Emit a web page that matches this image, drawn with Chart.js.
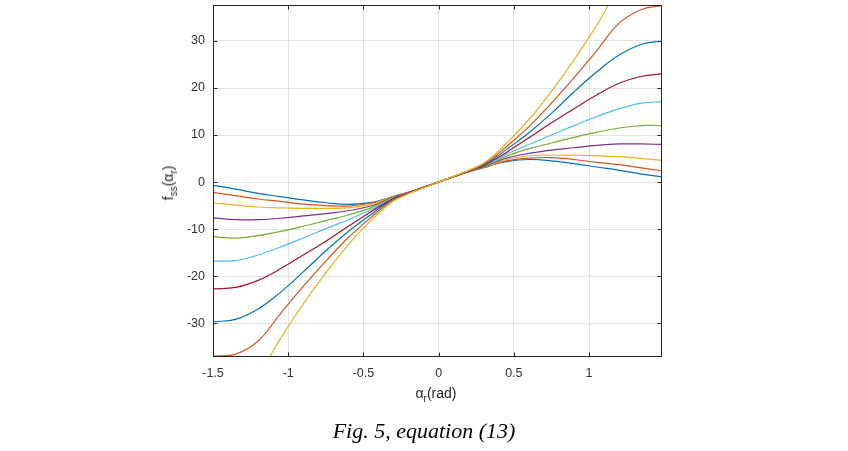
<!DOCTYPE html>
<html>
<head>
<meta charset="utf-8">
<script src="https://cdn.jsdelivr.net/npm/chart.js@4.4.0/dist/chart.umd.min.js"></script>
<style>
  html, body { margin: 0; padding: 0; background: #fff; }
  #wrap { position: relative; width: 848px; height: 451px; overflow: hidden; }
  #chart { position: absolute; left: 0; top: 0; }
  .axt { position: absolute; font-family: 'Liberation Sans', Arial, sans-serif; font-size: 14px; color: #262626; white-space: nowrap; line-height: 1; }
  .axt sub { font-size: 10px; vertical-align: -4px; }
  #ytitle { left: 170px; top: 183px; transform: translate(-50%, -50%) rotate(-90deg); }
  #xtitle { left: 436px; top: 395px; transform: translate(-50%, -50%); }
  #caption { position: absolute; left: 0; width: 848px; top: 418px; text-align: center; font-family: 'Liberation Serif', 'Times New Roman', serif; font-style: italic; font-size: 22px; color: #000; }
</style>
</head>
<body>
<div id="wrap">
  <canvas id="chart" width="848" height="451"></canvas>
  <div class="axt" id="ytitle">f<sub>ss</sub>(&alpha;<sub>r</sub>)</div>
  <div class="axt" id="xtitle">&alpha;<sub>r</sub>(rad)</div>
  <div id="caption">Fig. 5, equation (13)</div>
</div>
<script>
// angle alpha_r (rad)
const alphaR = [-1.5, -1.35, -1.2, -1.05, -0.9, -0.75, -0.6, -0.45, -0.375, -0.3, -0.225, -0.15, 0,
                0.15, 0.225, 0.3, 0.375, 0.45, 0.6, 0.75, 0.9, 1.05, 1.2, 1.35, 1.485];

// f_ss(alpha_r), one array per curve
const curve1  = [-0.7, -1.5, -2.4, -3.1, -3.8, -4.4, -4.75, -4.35, -3.8, -3.05, -2.4, -1.65, 0, 1.65, 2.4, 3.05, 3.8, 4.35, 4.8, 4.5, 3.9, 3.2, 2.5, 1.7, 1.1];
const curve2  = [-2.2, -2.9, -3.6, -4.1, -4.7, -5.0, -5.1, -4.5, -3.85, -3.07, -2.4, -1.65, 0, 1.65, 2.4, 3.07, 3.85, 4.5, 5.1, 5.2, 4.8, 4.2, 3.7, 3.0, 2.4];
const curve3  = [-4.4, -4.9, -5.3, -5.5, -5.6, -5.6, -5.5, -4.75, -3.95, -3.1, -2.45, -1.7, 0, 1.7, 2.45, 3.1, 3.95, 4.75, 5.6, 5.7, 5.7, 5.6, 5.4, 5.0, 4.6];
const curve4  = [-7.6, -8.0, -8.0, -7.7, -7.2, -6.7, -6.1, -5.1, -4.2, -3.2, -2.5, -1.7, 0, 1.7, 2.5, 3.2, 4.2, 5.1, 6.1, 6.8, 7.3, 7.8, 8.1, 8.1, 8.0];
const curve5  = [-11.6, -11.9, -11.4, -10.5, -9.4, -8.2, -7.0, -5.5, -4.4, -3.3, -2.55, -1.7, 0, 1.7, 2.55, 3.3, 4.4, 5.5, 7.1, 8.3, 9.5, 10.6, 11.5, 12.0, 12.0];
const curve6  = [-16.8, -16.7, -15.5, -13.8, -11.9, -9.9, -8.0, -5.9, -4.6, -3.4, -2.6, -1.75, 0, 1.75, 2.6, 3.4, 4.6, 5.9, 8.0, 10.0, 12.0, 13.9, 15.6, 16.8, 17.1];
const curve7  = [-22.7, -22.4, -20.9, -18.4, -15.5, -12.6, -9.4, -6.3, -4.85, -3.5, -2.6, -1.75, 0, 1.75, 2.6, 3.5, 4.85, 6.3, 9.4, 12.6, 15.6, 18.5, 21.0, 22.5, 23.0];
const curve8  = [-29.7, -29.2, -27.0, -23.4, -19.1, -14.6, -10.5, -6.9, -5.15, -3.7, -2.7, -1.8, 0, 1.8, 2.7, 3.7, 5.15, 6.9, 10.5, 14.6, 19.2, 23.4, 27.0, 29.3, 30.0];
const curve9  = [-37.0, -36.6, -33.8, -27.9, -22.2, -16.8, -11.8, -7.5, -5.5, -3.85, -2.75, -1.8, 0, 1.8, 2.75, 3.85, 5.5, 7.5, 11.8, 16.8, 22.2, 27.9, 33.8, 36.7, 37.5];
const curve10 = [-46.5, -44.8, -40.8, -33.2, -25.9, -19.3, -13.3, -8.2, -5.9, -4.05, -2.85, -1.85, 0, 1.85, 2.85, 4.05, 5.9, 8.2, 13.3, 19.3, 26.0, 33.3, 41.0, 45.0, 46.5];

const curves = [curve1, curve2, curve3, curve4, curve5, curve6, curve7, curve8, curve9, curve10];

// MATLAB default colour order
const lineColors = ['#0072BD', '#D95319', '#EDB120', '#7E2F8E', '#77AC30',
                    '#4DBEEE', '#A2142F', '#0072BD', '#D95319', '#EDB120'];

const xTicks = [-1.5, -1, -0.5, 0, 0.5, 1];
const yTicks = [-30, -20, -10, 0, 10, 20, 30];

const tickFont = { family: "'Liberation Sans', Arial, sans-serif", size: 12.5 };
const axisColor = '#262626';

// box round the axes + inward ticks on all four sides
const boxTicks = {
    id: 'boxTicks',
    afterDraw(chart) {
        const { ctx, chartArea: a, scales: { x, y } } = chart;
        const len = 4.5;
        ctx.save();
        ctx.strokeStyle = axisColor;
        ctx.lineWidth = 1;
        ctx.beginPath();
        xTicks.forEach(v => {
            const px = Math.round(x.getPixelForValue(v)) + 0.5;
            ctx.moveTo(px, a.bottom); ctx.lineTo(px, a.bottom - len);
            ctx.moveTo(px, a.top); ctx.lineTo(px, a.top + len);
        });
        yTicks.forEach(v => {
            const py = Math.round(y.getPixelForValue(v)) + 0.5;
            ctx.moveTo(a.left, py); ctx.lineTo(a.left + len, py);
            ctx.moveTo(a.right, py); ctx.lineTo(a.right - len, py);
        });
        ctx.stroke();
        ctx.strokeRect(Math.round(a.left) + 0.5, Math.round(a.top) + 0.5,
                       Math.round(a.right - a.left) - 1, Math.round(a.bottom - a.top) - 1);
        ctx.restore();
    }
};

const datasets = curves.map((vals, i) => ({
    data: alphaR.map((a, k) => ({ x: a, y: vals[k] })),
    borderColor: lineColors[i],
    borderWidth: 1.2,
    pointRadius: 0,
    fill: false,
    tension: 0.4,
    order: curves.length - i
}));

new Chart(document.getElementById('chart'), {
    type: 'line',
    data: { datasets },
    options: {
        responsive: false,
        animation: false,
        layout: { padding: { top: 5, right: 186, left: 0, bottom: 0 } },
        plugins: { legend: { display: false }, tooltip: { enabled: false } },
        scales: {
            x: {
                type: 'linear',
                min: -1.5,
                max: 1.485,
                afterBuildTicks: s => { s.ticks = xTicks.map(v => ({ value: v })); },
                afterFit: s => { s.height = 94; s.paddingLeft = 0; s.paddingRight = 0; },
                grid: { color: '#e2e2e2', drawTicks: false },
                border: { display: false },
                ticks: { padding: 9, font: tickFont, color: '#333', maxRotation: 0, callback: v => String(v) }
            },
            y: {
                type: 'linear',
                min: -37.2,
                max: 37.65,
                afterBuildTicks: s => { s.ticks = yTicks.map(v => ({ value: v })); },
                afterFit: s => { s.width = 213; s.paddingTop = 0; s.paddingBottom = 0; },
                grid: { color: '#e2e2e2', drawTicks: false },
                border: { display: false },
                ticks: { padding: 8, font: tickFont, color: '#333', callback: v => String(v) }
            }
        }
    },
    plugins: [boxTicks]
});
</script>
</body>
</html>
